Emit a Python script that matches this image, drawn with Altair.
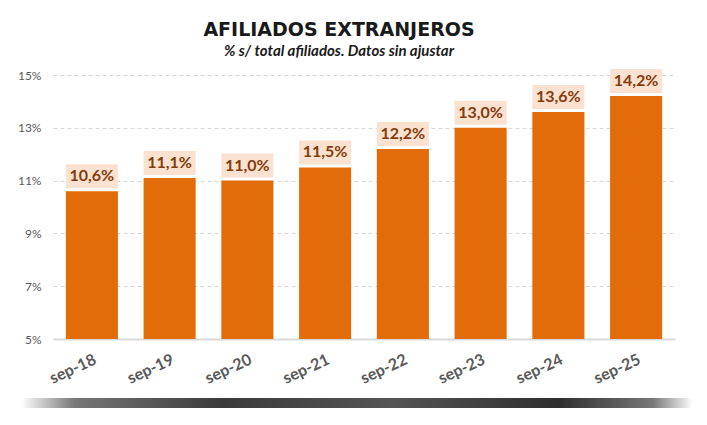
import altair as alt
import pandas as pd

periods = ["sep-18", "sep-19", "sep-20", "sep-21", "sep-22", "sep-23", "sep-24", "sep-25"]
shares = [10.6, 11.1, 11.0, 11.5, 12.2, 13.0, 13.6, 14.2]
y_ticks = [5, 7, 9, 11, 13, 15]
y_floor = 5

df = pd.DataFrame({"periodo": periods, "valor": shares})

FONT = "Lato"
ORANGE = "#e36c0a"
BOX = "#fbe2d0"
TEXT_DARK = "#843c0c"
GRAY = "#595959"

x = alt.X("periodo:N", sort=periods, title=None,
          scale=alt.Scale(paddingInner=0.33, paddingOuter=0.165),
          axis=alt.Axis(labelAngle=-25, labelFont=FONT, labelFontSize=16,
                        labelFontWeight="bold", labelColor=GRAY, labelPadding=12,
                        ticks=False, domainColor="#d9d9d9", domainWidth=2,
                        labelAlign="right", labelBaseline="top"))
y = alt.Y("valor:Q", title=None,
          scale=alt.Scale(domain=[5, 15], nice=False, zero=False),
          axis=alt.Axis(values=y_ticks, labelExpr="datum.value + '%'",
                        labelFont=FONT, labelFontSize=12, labelColor=GRAY,
                        labelPadding=12, ticks=False, domain=False,
                        gridColor="#d9d9d9", gridDash=[4, 3], gridWidth=1))

base = alt.Chart(df)

bars = base.mark_bar(color=ORANGE).encode(x=x, y=y, y2=alt.datum(y_floor))

boxes = base.mark_rect(color=BOX, yOffset=-27, y2Offset=-3).encode(
    x=x, y=alt.Y("valor:Q"), y2=alt.Y2("valor:Q")
)

labels = base.transform_calculate(
    etiqueta="replace(format(datum.valor, '.1f'), '.', ',') + '%'"
).mark_text(font=FONT, fontSize=16, fontWeight="bold", color=TEXT_DARK,
            dy=-15, baseline="middle").encode(
    x=x, y=alt.Y("valor:Q"), text="etiqueta:N"
)

shadow = alt.Chart(alt.Data(values=[{"s": 1}])).mark_rect(
    cornerRadius=5,
    color=alt.LinearGradient(
        gradient="linear", x1=0, x2=1, y1=0, y2=0,
        stops=[
            alt.GradientStop(color="#ffffff", offset=0),
            alt.GradientStop(color="#777777", offset=0.08),
            alt.GradientStop(color="#3a3a3a", offset=0.3),
            alt.GradientStop(color="#555555", offset=0.55),
            alt.GradientStop(color="#2e2e2e", offset=0.8),
            alt.GradientStop(color="#777777", offset=0.94),
            alt.GradientStop(color="#ffffff", offset=1),
        ],
    ),
).encode(x=alt.value(-32), x2=alt.value(640), y=alt.value(323), y2=alt.value(333))

chart = alt.layer(bars, boxes, labels, shadow).properties(
    width=622, height=264,
    autosize=alt.AutoSizeParams(type="none"),
    padding={"left": 45, "top": 67, "right": 20, "bottom": 80},
    title=alt.TitleParams(
        text="AFILIADOS EXTRANJEROS",
        subtitle="% s/ total afiliados. Datos sin ajustar",
        font="DejaVu Sans", fontSize=19, fontWeight="bold", color="#1a1a1a",
        subtitleFont=FONT, subtitleFontSize=15, subtitleFontStyle="italic",
        subtitleFontWeight="bold", subtitleColor="#1a1a1a",
        subtitlePadding=4, offset=10, anchor="middle", dx=-25,
    ),
).configure_view(stroke=None)

chart.save("out.html", embed_options={"renderer": "svg", "actions": False})
